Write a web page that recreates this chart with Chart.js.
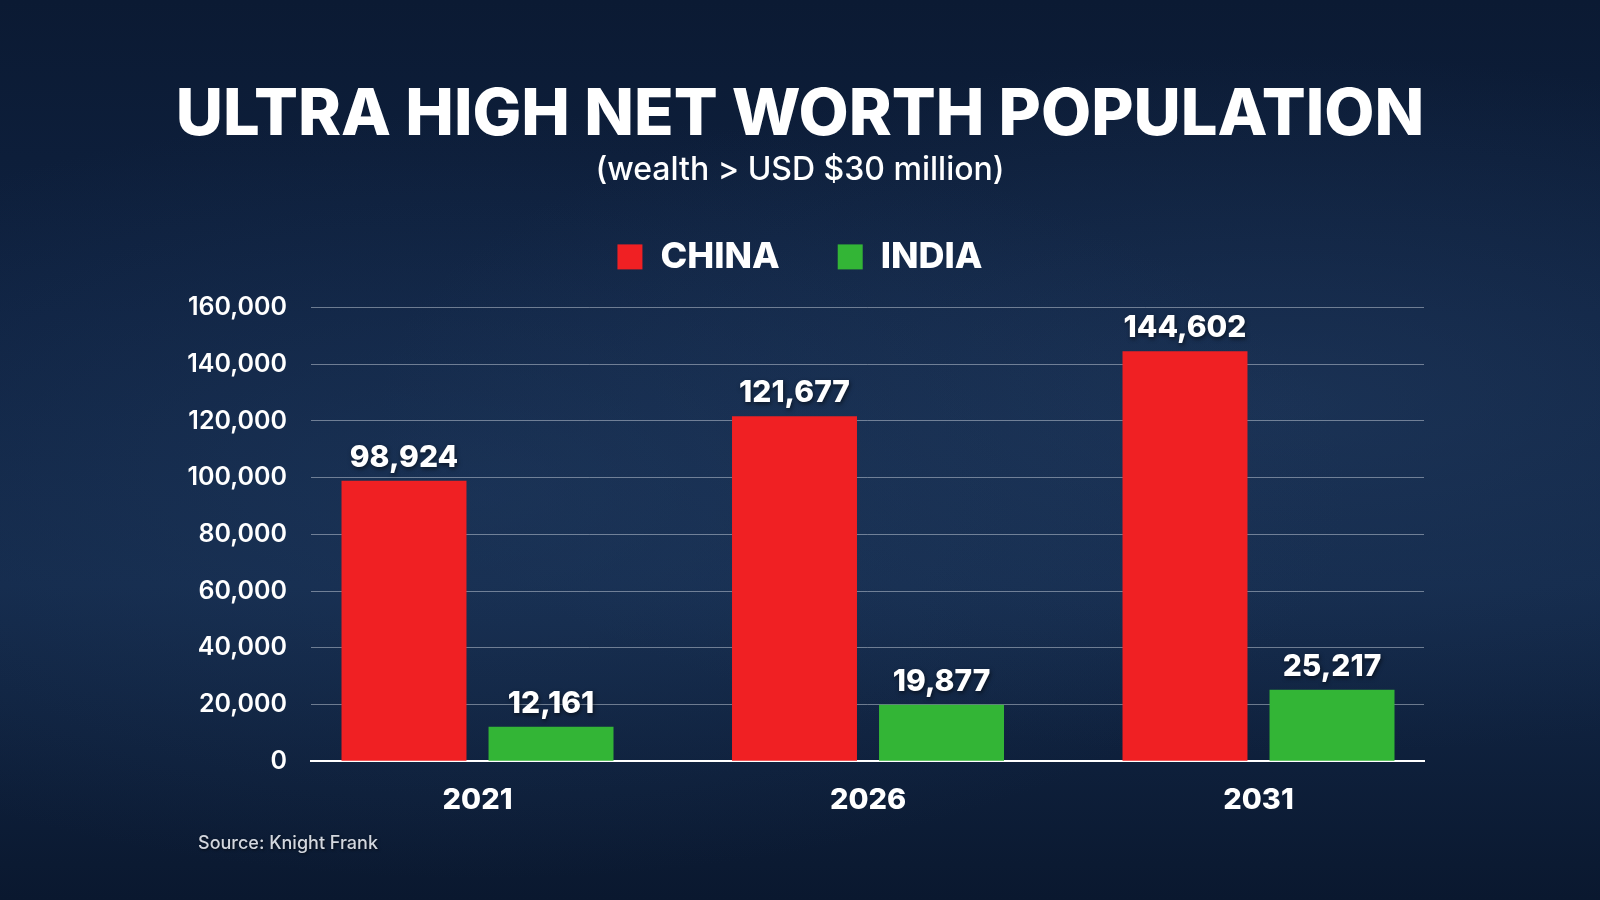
<!DOCTYPE html>
<html>
<head>
<meta charset="utf-8">
<script src="https://cdn.jsdelivr.net/npm/chart.js@4.4.1/dist/chart.umd.min.js"></script>
<style>
  html, body { margin: 0; padding: 0; }
  body {
    width: 1600px; height: 900px; overflow: hidden; position: relative;
    background:
      radial-gradient(ellipse at 30% 55%, rgba(40,70,110,0.35), rgba(0,0,0,0) 55%),
      radial-gradient(ellipse at 80% 45%, rgba(45,75,115,0.35), rgba(0,0,0,0) 50%),
      linear-gradient(180deg, #0b1a33 0%, #0f2241 35%, #13294a 65%, #0a182f 100%);
    font-family: Inter, "Open Sans", sans-serif;
  }
  #wrap { position: absolute; left: 0; top: 0; width: 1600px; height: 900px; }
  #source {
    position: absolute; left: 198px; top: 832px;
    font-size: 18px; font-weight: 500; color: #d3d7de;
    text-shadow: 1px 1px 3px rgba(0,0,0,0.6);
  }
</style>
</head>
<body>
<div id="wrap"><canvas id="uhnwChart"></canvas></div>
<div id="source">Source: Knight Frank</div>
<script>
const years = ['2021', '2026', '2031'];
const chinaValues = [98924, 121677, 144602];
const indiaValues = [12161, 19877, 25217];
const yTicks = [0, 20000, 40000, 60000, 80000, 100000, 120000, 140000, 160000];

const fontFamily = 'Inter, "Open Sans", sans-serif';
const fmt = v => v.toLocaleString('en-US');

// value labels above each bar
const barValueLabels = {
  id: 'barValueLabels',
  afterDatasetsDraw(chart) {
    const ctx = chart.ctx;
    ctx.save();
    ctx.font = `800 30px ${fontFamily}`;
    ctx.fillStyle = '#ffffff';
    ctx.textAlign = 'center';
    ctx.textBaseline = 'alphabetic';
    ctx.shadowColor = 'rgba(0,0,0,0.55)';
    ctx.shadowBlur = 4;
    ctx.shadowOffsetX = 1;
    ctx.shadowOffsetY = 2;
    chart.data.datasets.forEach((ds, di) => {
      chart.getDatasetMeta(di).data.forEach((bar, i) => {
        ctx.fillText(fmt(ds.data[i].y), bar.x, bar.y - 14);
      });
    });
    ctx.restore();
  }
};

const ctx = document.getElementById('uhnwChart').getContext('2d');
new Chart(ctx, {
  type: 'bar',
  data: {
    datasets: [
      {
        label: 'CHINA',
        data: chinaValues.map((v, i) => ({ x: i, y: v })),
        backgroundColor: '#f02023',
        borderWidth: 0
      },
      {
        label: 'INDIA',
        data: indiaValues.map((v, i) => ({ x: i, y: v })),
        backgroundColor: '#33b536',
        borderWidth: 0
      }
    ]
  },
  options: {
    responsive: true,
    maintainAspectRatio: false,
    animation: false,
    categoryPercentage: 0.753,
    barPercentage: 0.85,
    layout: { padding: { top: 0, left: 0, right: 0, bottom: 60 } },
    scales: {
      x: {
        type: 'linear',
        offset: false,
        min: -0.4264,
        max: 2.4238,
        afterBuildTicks: s => { s.ticks = years.map((y, i) => ({ value: i })); },
        ticks: {
          callback: v => years[v],
          color: '#ffffff',
          padding: 22,
          maxRotation: 0,
          font: { family: fontFamily, size: 29, weight: 800 }
        },
        grid: { display: false, drawTicks: false, offset: false },
        border: { color: '#ffffff', width: 2 }
      },
      y: {
        min: 0,
        max: 168000,
        afterBuildTicks: s => { s.ticks = yTicks.map(v => ({ value: v })); },
        afterFit: s => { s.width = 311; },
        ticks: {
          callback: v => fmt(v),
          color: '#ffffff',
          padding: 24,
          font: { family: fontFamily, size: 25, weight: 600 }
        },
        grid: { color: 'rgba(220,226,235,0.45)', lineWidth: 1, drawTicks: false },
        border: { display: false }
      },
      // empty right-hand gutter so the titles stay centred on the page
      gutter: {
        type: 'linear',
        position: 'right',
        afterFit: s => { s.width = 176; },
        ticks: { display: false },
        grid: { display: false, drawTicks: false },
        border: { display: false }
      }
    },
    plugins: {
      title: {
        display: true,
        text: 'ULTRA HIGH NET WORTH POPULATION',
        color: '#ffffff',
        font: { family: fontFamily, size: 65, weight: 800, lineHeight: 1.1 },
        padding: { top: 80, bottom: 0 }
      },
      subtitle: {
        display: true,
        text: '(wealth > USD $30 million)',
        color: '#ffffff',
        font: { family: fontFamily, size: 32, weight: 500 },
        padding: { top: 0, bottom: -9 }
      },
      legend: {
        display: true,
        position: 'top',
        labels: {
          color: '#ffffff',
          boxWidth: 25,
          boxHeight: 25,
          padding: 58,
          font: { family: fontFamily, size: 36, weight: 800 }
        }
      },
      tooltip: { enabled: false }
    }
  },
  plugins: [barValueLabels]
});
</script>
</body>
</html>
